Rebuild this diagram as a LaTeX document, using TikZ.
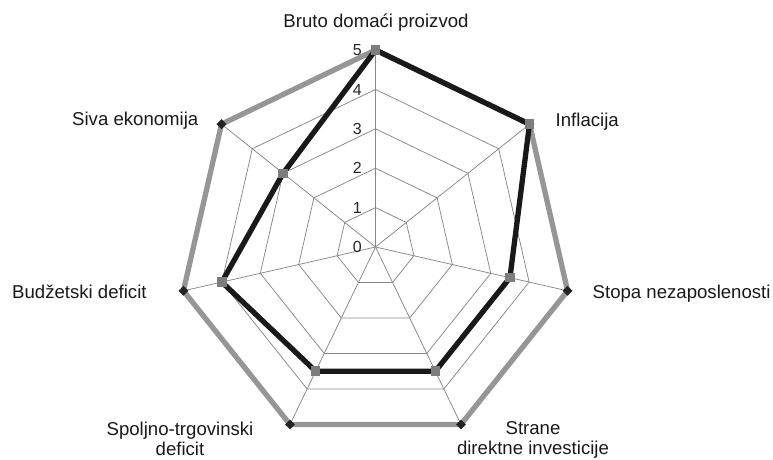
\documentclass[tikz,border=0pt]{standalone}
\usepackage{fontspec}
\setmainfont{Liberation Sans}
\definecolor{gridc}{RGB}{135,135,135}
\definecolor{serA}{RGB}{150,150,150}
\definecolor{serB}{RGB}{25,25,25}
\definecolor{mkA}{RGB}{35,35,35}
\definecolor{mkB}{RGB}{125,125,125}
\begin{document}
\begin{tikzpicture}[x=1pt,y=1pt,
  gridline/.style={draw=gridc, line width=0.75pt},
  lineA/.style={draw=serA, line width=5.3pt, line join=miter},
  lineB/.style={draw=serB, line width=5.3pt, line join=miter},
  markA/.style={fill=mkA, draw=none, minimum size=7pt, inner sep=0pt, rotate=45},
  markB/.style={fill=mkB, draw=none, minimum size=9.5pt, inner sep=0pt},
  axlabel/.style={font=\fontsize{18.6}{20}\selectfont, inner sep=0pt, text=black!90},
  ticklabel/.style={font=\fontsize{16}{18}\selectfont, inner sep=0pt, anchor=base east, text=black!85}]
\useasboundingbox (0,0) rectangle (773,459);
\def\u{39.4}
\begin{scope}[shift={(375.5,212)}]
  \coordinate (O) at (0,0);
  % spokes
  \foreach \k in {0,...,6}{
    \coordinate (ax\k) at ({90-360/7*\k}:{5*\u});
    \draw[gridline] (O) -- (ax\k);
  }
  % rings
  \foreach \r in {1,...,5}{
    \draw[gridline] (90:{\r*\u}) \foreach \k in {1,...,6}{ -- ({90-360/7*\k}:{\r*\u}) } -- cycle;
  }
  % tick labels
  \foreach \r in {0,...,5}{
    \node[ticklabel] (t\r) at (-13.5,{\r*\u-5.75}) {\r};
  }
  % series A (all 5)
  \foreach \k in {0,...,6}{
    \coordinate (a\k) at ({90-360/7*\k}:{5*\u});
  }
  % series B
  \foreach \k/\v in {0/5,1/5,2/3.5,3/3.5,4/3.5,5/4,6/3}{
    \coordinate (b\k) at ({90-360/7*\k}:{\v*\u});
  }
  \draw[lineA] (a0) -- (a1) -- (a2) -- (a3) -- (a4) -- (a5) -- (a6) -- cycle;
  \foreach \k in {0,...,6}{ \node[markA] (ma\k) at (a\k) {}; }
  \draw[lineB] (b0) -- (b1) -- (b2) -- (b3) -- (b4) -- (b5) -- (b6) -- cycle;
  \foreach \k in {0,...,6}{ \node[markB] (mb\k) at (b\k) {}; }
\end{scope}
% axis labels
\node[axlabel, anchor=base] (l0) at (376,431) {Bruto domaći proizvod};
\node[axlabel, anchor=base west] (l1) at (555.5,333) {Inflacija};
\node[axlabel, anchor=base west] (l2) at (592.5,161) {Stopa nezaposlenosti};
\node[axlabel, anchor=base, align=center] (l3) at (533,5) {Strane\\direktne investicije};
\node[axlabel, anchor=base, align=center] (l4) at (180,4) {Spoljno-trgovinski\\deficit};
\node[axlabel, anchor=base west] (l5) at (12,161) {Budžetski deficit};
\node[axlabel, anchor=base west] (l6) at (72,334) {Siva ekonomija};
\end{tikzpicture}
\end{document}
